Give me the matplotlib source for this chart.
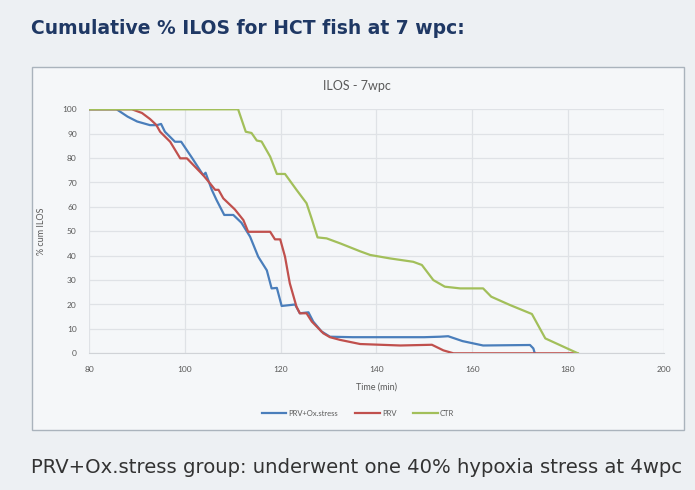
import matplotlib
matplotlib.use("Agg")
import matplotlib.pyplot as plt
from matplotlib.patches import Rectangle
from matplotlib.lines import Line2D

# ---- data ----
blue_t = [80, 85.7, 88, 90, 92.7, 94.1, 95, 95.8, 97.9, 99.2, 101.5, 103.8, 104.3, 105.6, 106.6,
          108.2, 110.1, 111.8, 113.6, 115.3, 117.1, 118.1, 119.2, 120.2, 123, 124, 125.8, 126.8,
          128.5, 130.3, 135, 150, 153.3, 155, 158, 162.3, 167, 172.1, 172.8, 173.1]
blue_v = [100, 100, 97, 95, 93.5, 93.5, 94, 90.8, 86.7, 86.7, 80, 73, 74, 67, 62.8,
          56.7, 56.7, 53.5, 47.8, 39.6, 34, 26.6, 26.8, 19.4, 20, 16.4, 16.8, 13,
          9, 6.8, 6.6, 6.6, 6.8, 7, 5, 3.2, 3.3, 3.4, 2, 0]

red_t = [80, 88.9, 91, 92.7, 94, 94.8, 96.9, 99, 100.4, 103.8, 105.2, 106.3, 107, 108, 110.4,
         112.2, 113.2, 117.8, 118.8, 119.9, 120.9, 121.9, 123.3, 124, 125.4, 126.5, 128.9,
         130.3, 132.4, 136.6, 145, 151.6, 154, 156.1, 182]
red_v = [100, 100, 98.5, 96, 93.6, 90.8, 86.7, 79.9, 79.9, 73, 69.7, 67, 67, 63.5, 59,
         54.6, 49.8, 49.8, 46.7, 46.7, 39.6, 28.7, 19.1, 16.4, 16.4, 13, 8.2,
         6.6, 5.5, 3.8, 3.2, 3.5, 1.2, 0, 0]

green_t = [80, 111.1, 112.7, 113.9, 115, 116, 117.8, 119.2, 120.9, 123.3, 125.4, 126.5, 127.7,
           129.6, 132.5, 136.6, 138.7, 142.8, 147.7, 149.5, 151.9, 154.3, 157.5, 162.3, 164,
           167.9, 172.5, 175.3, 182.1]
green_v = [100, 100, 90.8, 90.3, 87.2, 86.8, 80.6, 73.5, 73.5, 67, 61.5, 55, 47.5,
           47.1, 45, 41.8, 40.3, 38.9, 37.5, 36.2, 30, 27.3, 26.6, 26.6, 23.2,
           19.8, 16.1, 6.1, 0]

series_names = ["PRV+Ox.stress", "PRV", "CTR"]
x_ticks = [80, 100, 120, 140, 160, 180, 200]
y_ticks = [0, 10, 20, 30, 40, 50, 60, 70, 80, 90, 100]

colors = ["#4a7ebb", "#c0504d", "#a2bf5a"]

W, H = 695, 490
fig = plt.figure(figsize=(W / 100, H / 100), dpi=100)
fig.patch.set_facecolor("#edf0f3")

def fx(px):
    return px / W

def fy(py):
    return 1 - py / H

# chart box
box = Rectangle((fx(32), fy(430)), fx(684) - fx(32), fy(67) - fy(430),
                transform=fig.transFigure, facecolor="#f5f7f9", edgecolor="#aab3bc",
                linewidth=1.0, zorder=-5)
fig.patches.append(box)

# titles
fig.text(fx(31), fy(28), "Cumulative % ILOS for HCT fish at 7 wpc:", fontsize=13.5,
         fontweight="bold", color="#1f3864", family="DejaVu Sans", va="center", ha="left")
fig.text(fx(357), fy(86), "ILOS - 7wpc", fontsize=9, color="#595959", family="Lato",
         va="center", ha="center")
fig.text(fx(31), fy(467), "PRV+Ox.stress group: underwent one 40% hypoxia stress at 4wpc",
         fontsize=14.1, color="#333333", family="DejaVu Sans", va="center", ha="left")

ax = fig.add_axes([fx(89.3), fy(353.3), fx(663.5) - fx(89.3), fy(109.3) - fy(353.3)])
ax.set_zorder(2)
ax.set_facecolor("none")
ax.set_xlim(80, 200)
ax.set_ylim(0, 100)
ax.set_xticks(x_ticks)
ax.set_yticks(y_ticks)
ax.grid(True, color="#dfe2e6", linewidth=0.9)
ax.set_axisbelow(True)
for s in ["top", "right", "left"]:
    ax.spines[s].set_visible(False)
ax.spines["bottom"].set_color("#d0d3d7")
ax.tick_params(length=0, labelsize=6, labelcolor="#595959", pad=9)
for lab in ax.get_xticklabels() + ax.get_yticklabels():
    lab.set_family("Lato")

lw = 1.6
ax.plot(blue_t, blue_v, color=colors[0], lw=lw, label=series_names[0], zorder=3)
ax.plot(red_t, red_v, color=colors[1], lw=lw, label=series_names[1], zorder=3)
ax.plot(green_t, green_v, color=colors[2], lw=lw, label=series_names[2], zorder=4)

ax.set_xlabel("Time (min)", fontsize=6.5, color="#595959", family="Lato", labelpad=7)
ax.set_ylabel("% cum ILOS", fontsize=6.5, color="#595959", family="Lato", labelpad=12)

handles = [Line2D([], [], color=c, lw=lw) for c in colors]
fig.legend(handles, series_names, loc="center", bbox_to_anchor=(fx(358), fy(413)),
           ncol=3, frameon=False, prop={"family": "Lato", "size": 5.5},
           labelcolor="#595959", handlelength=3.2, handletextpad=0.3, columnspacing=2.2)

fig.savefig("out.png", dpi=100, facecolor=fig.get_facecolor())
